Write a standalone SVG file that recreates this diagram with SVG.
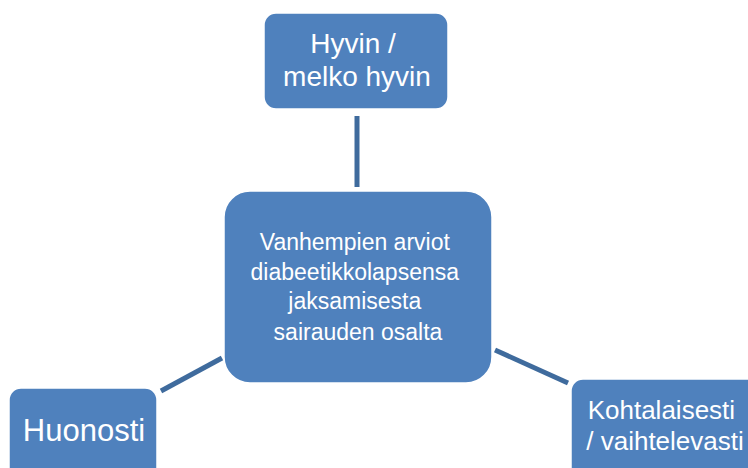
<svg xmlns="http://www.w3.org/2000/svg" width="748" height="468" viewBox="0 0 748 468">
  <style>
    .box { fill: #4F81BD; stroke: #ffffff; stroke-width: 1.5; }
    .lbl { fill: #ffffff; font-family: "Liberation Sans", Arial, sans-serif; text-anchor: middle; }
    .link { stroke: #3F6B9D; stroke-width: 5; fill: none; }
  </style>
  <rect width="748" height="468" fill="#ffffff"/>
  <g id="connectors">
    <line class="link" x1="357" y1="116" x2="357" y2="187"/>
    <line class="link" x1="161" y1="391" x2="222" y2="358"/>
    <line class="link" x1="495" y1="350" x2="568" y2="383"/>
  </g>
  <g id="center">
    <rect class="box" x="224" y="191" width="268" height="192" rx="26"/>
    <text class="lbl" font-size="23">
      <tspan x="358" y="250">Vanhempien arviot</tspan>
      <tspan x="358" y="280">diabeetikkolapsensa</tspan>
      <tspan x="358" y="309">jaksamisesta</tspan>
      <tspan x="358" y="340">sairauden osalta</tspan>
    </text>
  </g>
  <g id="top">
    <rect class="box" x="264" y="13" width="184" height="96" rx="12"/>
    <text class="lbl" font-size="28">
      <tspan x="357" y="53">Hyvin /</tspan>
      <tspan x="357" y="86">melko hyvin</tspan>
    </text>
  </g>
  <g id="left">
    <rect class="box" x="9" y="388" width="148" height="100" rx="12"/>
    <text class="lbl" font-size="31" x="84" y="441">Huonosti</text>
  </g>
  <g id="right">
    <rect class="box" x="571" y="379" width="190" height="110" rx="12"/>
    <text class="lbl" font-size="26">
      <tspan x="665" y="419">Kohtalaisesti</tspan>
      <tspan x="665" y="450">/ vaihtelevasti</tspan>
    </text>
  </g>
</svg>
